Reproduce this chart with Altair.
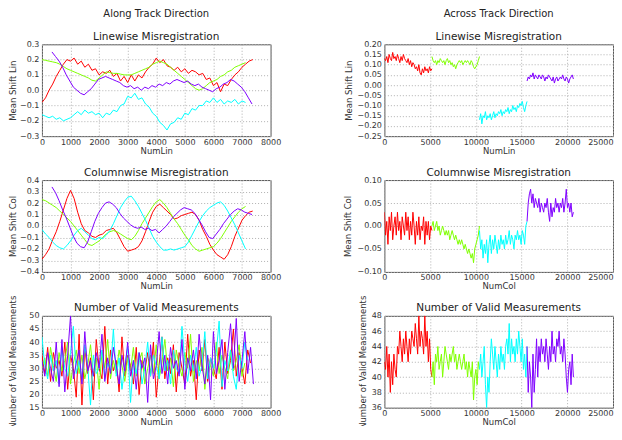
import altair as alt
import pandas as pd

SERIES = ["a_red", "b_green", "c_cyan", "d_purple"]
COLORS = ["#ff0000", "#80ff00", "#00ffff", "#8000ff"]

# ---------------- Along track (NumLin), step 125 ----------------
AL_STEP = 125
al_lin_red = [-0.08, -0.05, 0.0, 0.04, 0.09, 0.13, 0.17, 0.2, 0.19, 0.21, 0.17, 0.19, 0.15, 0.17, 0.13, 0.14,
              0.1, 0.12, 0.11, 0.13, 0.09, 0.11, 0.06, 0.09, 0.05, 0.1, 0.06, 0.1, 0.08, 0.12, 0.15, 0.17,
              0.21, 0.18, 0.2, 0.16, 0.15, 0.13, 0.15, 0.12, 0.14, 0.11, 0.13, 0.12, 0.1, 0.11, 0.07, 0.08,
              0.03, 0.05, -0.01, 0.04, 0.03, 0.07, 0.1, 0.12, 0.15, 0.17, 0.19, 0.2]
al_lin_green = [0.2, 0.195, 0.19, 0.185, 0.18, 0.17, 0.155, 0.14, 0.13, 0.12, 0.11, 0.1, 0.09, 0.08, 0.065, 0.06,
                0.08, 0.1, 0.12, 0.115, 0.11, 0.11, 0.105, 0.1, 0.1, 0.1, 0.11, 0.12, 0.13, 0.14, 0.15, 0.17,
                0.18, 0.19, 0.18, 0.17, 0.15, 0.13, 0.11, 0.09, 0.07, 0.05, 0.03, 0.01, 0.0, 0.01, 0.03, 0.05,
                0.06, 0.07, 0.09, 0.1, 0.12, 0.13, 0.15, 0.16, 0.17, 0.18]
al_lin_cyan = [-0.16, -0.17, -0.18, -0.17, -0.19, -0.18, -0.2, -0.19, -0.18, -0.16, -0.14, -0.16, -0.13, -0.15,
               -0.14, -0.16, -0.15, -0.18, -0.15, -0.16, -0.13, -0.14, -0.1, -0.09, -0.04, -0.05, -0.02, -0.06,
               -0.05, -0.09, -0.11, -0.15, -0.17, -0.21, -0.23, -0.26, -0.22, -0.21, -0.18, -0.19, -0.15, -0.16,
               -0.12, -0.13, -0.1, -0.1, -0.07, -0.08, -0.05, -0.08, -0.06, -0.09, -0.07, -0.08, -0.06, -0.09,
               -0.07, -0.08]
al_lin_purple = [0.25, 0.22, 0.19, 0.15, 0.1, 0.06, 0.02, 0.0, -0.02, -0.03, -0.01, 0.01, 0.04, 0.07, 0.08, 0.09,
                 0.08, 0.07, 0.06, 0.05, 0.03, 0.02, 0.03, 0.01, 0.02, 0.0, 0.02, 0.01, 0.03, 0.02, 0.04, 0.03,
                 0.05, 0.04, 0.06, 0.07, 0.06, 0.05, 0.06, 0.04, 0.03, 0.04, 0.02, 0.01, 0.0, -0.01, 0.01, 0.02,
                 0.04, 0.05, 0.07, 0.06, 0.04, 0.02, -0.01, -0.05, -0.09]
al_lin_starts = [0, 0, 0, 350]

al_col_red = [-0.29, -0.25, -0.2, -0.12, -0.05, 0.04, 0.14, 0.24, 0.31, 0.24, 0.12, 0.02, -0.04, -0.06, -0.09,
              -0.1, -0.08, -0.07, -0.04, -0.03, -0.02, -0.06, -0.12, -0.18, -0.22, -0.21, -0.2, -0.18, -0.13,
              -0.05, 0.04, 0.12, 0.17, 0.19, 0.16, 0.13, 0.1, 0.06, 0.07, 0.09, 0.1, 0.11, 0.12, 0.1, 0.05,
              -0.03, -0.09, -0.16, -0.21, -0.25, -0.27, -0.29, -0.25, -0.18, -0.09, -0.02, 0.05, 0.09, 0.12, 0.13]
al_col_green = [0.23, 0.22, 0.2, 0.18, 0.16, 0.13, 0.1, 0.07, 0.04, 0.0, -0.04, -0.08, -0.12, -0.16, -0.17, -0.15,
                -0.13, -0.1, -0.07, -0.05, -0.04, -0.05, -0.07, -0.09, -0.11, -0.12, -0.09, -0.04, 0.02, 0.07,
                0.12, 0.17, 0.21, 0.23, 0.2, 0.16, 0.11, 0.06, 0.02, -0.03, -0.08, -0.12, -0.17, -0.2, -0.22,
                -0.21, -0.2, -0.19, -0.18, -0.15, -0.11, -0.06, -0.01, 0.04, 0.08, 0.12, 0.15, 0.17]
al_col_cyan = [-0.03, -0.07, -0.1, -0.14, -0.17, -0.19, -0.2, -0.17, -0.13, -0.08, -0.04, -0.02, -0.05, -0.08,
               -0.11, -0.12, -0.1, -0.11, -0.08, -0.04, 0.02, 0.09, 0.16, 0.21, 0.25, 0.26, 0.22, 0.17, 0.11,
               0.05, -0.02, -0.09, -0.14, -0.18, -0.21, -0.21, -0.2, -0.21, -0.2, -0.19, -0.18, -0.14, -0.08,
               -0.02, 0.04, 0.09, 0.13, 0.16, 0.18, 0.2, 0.21, 0.18, 0.13, 0.07, 0.01, -0.06, -0.13, -0.2]
al_col_purple = [0.34, 0.29, 0.22, 0.14, 0.07, -0.01, -0.09, -0.15, -0.18, -0.19, -0.14, -0.05, 0.04, 0.11, 0.16,
                 0.2, 0.21, 0.19, 0.16, 0.11, 0.07, 0.04, 0.01, -0.01, -0.02, -0.01, -0.03, -0.02, -0.04, -0.03,
                 -0.06, -0.03, 0.0, 0.04, 0.08, 0.11, 0.14, 0.16, 0.15, 0.14, 0.11, 0.06, 0.01, -0.05, -0.1,
                 -0.11, -0.07, -0.03, 0.02, 0.06, 0.1, 0.13, 0.15, 0.14, 0.12, 0.11, 0.1]
al_col_starts = [0, 0, 0, 350]

AL_VALID_STEP = 100
al_val_red = [35, 28, 38, 25, 36, 30, 33, 27, 40, 22, 35, 30, 19, 43, 16, 38, 28, 34, 18, 41, 30, 26, 46, 24, 37,
              29, 33, 21, 42, 27, 35, 31, 24, 38, 20, 33, 29, 36, 27, 40, 19, 31, 42, 26, 34, 28, 39, 21, 36, 30,
              24, 43, 27, 33, 18, 37, 29, 41, 25, 34, 30, 26, 38, 22, 40, 28, 33, 45, 27, 36, 30, 24, 37, 32]
al_val_green = [30, 34, 27, 38, 31, 25, 36, 29, 33, 40, 24, 32, 37, 28, 35, 26, 31, 39, 27, 34, 22, 36, 30, 41,
                26, 33, 28, 37, 31, 25, 34, 29, 38, 27, 33, 36, 24, 30, 35, 28, 39, 26, 32, 41, 29, 34, 23, 37,
                31, 27, 36, 30, 43, 25, 33, 29, 38, 22, 34, 31, 27, 40, 28, 35, 30, 26, 37, 29, 33, 39, 27, 32]
al_val_cyan = [42, 31, 26, 35, 29, 33, 24, 38, 30, 27, 36, 46, 28, 33, 25, 39, 31, 16, 35, 28, 30, 37, 26, 32, 29,
               45, 27, 34, 22, 31, 38, 17, 33, 28, 36, 24, 30, 40, 27, 35, 31, 26, 42, 29, 33, 24, 37, 30, 28, 46,
               32, 25, 35, 29, 38, 27, 31, 44, 26, 34, 30, 36, 48, 23, 33, 29, 37, 27, 22, 35, 30, 40, 33]
al_val_purple = [33, 27, 36, 30, 25, 40, 23, 41, 21, 35, 50, 26, 32, 37, 24, 44, 29, 33, 27, 36, 30, 43, 25, 34,
                 28, 38, 31, 24, 35, 29, 40, 27, 33, 22, 36, 30, 34, 17, 39, 26, 31, 44, 28, 35, 24, 38, 30, 33,
                 27, 41, 22, 34, 29, 37, 26, 43, 31, 24, 35, 18, 44, 28, 33, 41, 22, 36, 47, 30, 49, 25, 33, 44,
                 28, 38, 24]
al_val_starts = [0, 0, 0, 0]

# ---------------- Across track (NumCol), step 130 ----------------
AC_STEP = 130
ac_starts = [0, 5200, 10400, 15600]
ac_lin_red = [0.13, 0.12, 0.14, 0.11, 0.15, 0.13, 0.12, 0.16, 0.13, 0.14, 0.12, 0.15, 0.13, 0.11, 0.14, 0.12,
              0.15, 0.13, 0.12, 0.11, 0.13, 0.1, 0.12, 0.09, 0.11, 0.1, 0.08, 0.09, 0.07, 0.1, 0.06, 0.05, 0.08,
              0.06, 0.09, 0.07, 0.08, 0.06, 0.09, 0.07, 0.08]
ac_lin_green = [0.14, 0.12, 0.11, 0.12, 0.1, 0.12, 0.11, 0.13, 0.12, 0.11, 0.12, 0.1, 0.12, 0.13, 0.11, 0.12, 0.1,
                0.11, 0.09, 0.1, 0.08, 0.1, 0.11, 0.12, 0.11, 0.12, 0.1, 0.11, 0.12, 0.11, 0.12, 0.11, 0.1, 0.12,
                0.11, 0.09, 0.08, 0.09, 0.1, 0.12, 0.14]
ac_lin_cyan = [-0.17, -0.14, -0.19, -0.15, -0.16, -0.13, -0.17, -0.15, -0.16, -0.14, -0.17, -0.15, -0.13, -0.16,
               -0.14, -0.15, -0.13, -0.14, -0.12, -0.15, -0.13, -0.14, -0.12, -0.13, -0.11, -0.14, -0.12, -0.13,
               -0.1, -0.12, -0.11, -0.13, -0.1, -0.11, -0.09, -0.1, -0.08, -0.11, -0.13, -0.1, -0.08]
ac_lin_purple = [0.02, 0.04, 0.03, 0.05, 0.04, 0.06, 0.03, 0.05, 0.04, 0.03, 0.05, 0.04, 0.03, 0.05, 0.04, 0.02,
                 0.04, 0.03, 0.05, 0.04, 0.03, 0.02, 0.04, 0.01, 0.03, 0.04, 0.02, 0.03, 0.04, 0.03, 0.05, 0.03,
                 0.02, 0.04, 0.03, 0.01, 0.03, 0.04, 0.05, 0.03]

ac_col_red = [0.03, -0.02, 0.01, -0.04, 0.02, -0.01, 0.03, -0.03, 0.0, 0.02, -0.02, 0.03, -0.01, 0.01, -0.03,
              0.02, 0.0, -0.02, 0.03, -0.01, 0.02, -0.03, 0.01, -0.02, 0.03, 0.0, -0.04, 0.01, -0.02, 0.02,
              -0.03, 0.0, -0.01, 0.02, -0.04, 0.01, -0.02, 0.01, -0.03, 0.0, -0.01]
ac_col_green = [0.0, 0.01, -0.01, 0.0, 0.01, -0.01, 0.0, -0.02, -0.01, 0.0, -0.01, -0.02, -0.01, -0.02, -0.01,
                -0.03, -0.02, -0.01, -0.02, -0.03, -0.02, -0.03, -0.04, -0.03, -0.04, -0.03, -0.04, -0.05, -0.04,
                -0.05, -0.06, -0.05, -0.06, -0.07, -0.06, -0.08, -0.05, -0.04, -0.03, -0.02, 0.0]
ac_col_cyan = [-0.01, -0.05, -0.03, -0.07, -0.04, -0.06, -0.03, -0.08, -0.04, -0.02, -0.06, -0.03, -0.05, -0.02,
               -0.04, -0.06, -0.03, -0.05, -0.02, -0.04, -0.03, -0.05, -0.02, -0.04, -0.03, -0.01, -0.04, -0.02,
               -0.03, -0.05, -0.02, -0.03, -0.01, -0.03, -0.02, -0.04, -0.01, -0.02, -0.04, 0.0, 0.01]
ac_col_purple = [0.01, 0.05, 0.07, 0.08, 0.05, 0.07, 0.04, 0.06, 0.05, 0.04, 0.06, 0.03, 0.05, 0.04, 0.03, 0.05,
                 0.04, 0.06, 0.03, 0.01, 0.05, 0.02, 0.04, 0.03, 0.06, 0.04, 0.05, 0.03, 0.05, 0.04, 0.06, 0.03,
                 0.05, 0.08, 0.04, 0.05, 0.03, 0.05, 0.02, 0.03]

ac_val_red = [42, 41, 44, 40, 43, 38, 42, 39, 43, 41, 40, 44, 43, 46, 44, 42, 45, 43, 46, 44, 42, 45, 43, 46, 45,
              44, 47, 45, 43, 48, 44, 46, 45, 43, 48, 44, 46, 42, 45, 41, 40]
ac_val_green = [40, 42, 39, 43, 42, 44, 41, 42, 43, 40, 42, 44, 43, 42, 41, 43, 42, 43, 44, 42, 43, 41, 42, 43,
                42, 41, 42, 43, 41, 42, 40, 42, 41, 40, 42, 37, 40, 41, 39, 42, 41]
ac_val_cyan = [41, 43, 40, 42, 44, 39, 36, 40, 38, 42, 45, 43, 41, 44, 42, 40, 43, 41, 44, 42, 43, 41, 44, 45, 43,
               47, 42, 45, 43, 44, 42, 45, 43, 46, 44, 42, 45, 41, 43, 40, 44]
ac_val_purple = [44, 38, 42, 40, 36, 43, 38, 41, 45, 40, 44, 42, 45, 43, 44, 42, 45, 43, 41, 44, 42, 46, 43, 44,
                 42, 45, 44, 46, 43, 44, 42, 45, 43, 40, 38, 41, 42, 39, 43, 40]

# ---------------- ticks ----------------
X_TICKS_AL = [0, 1000, 2000, 3000, 4000, 5000, 6000, 7000, 8000]
X_TICKS_AC = [0, 5000, 10000, 15000, 20000, 25000]
Y_TICKS_AL_LIN = [-0.3, -0.2, -0.1, 0.0, 0.1, 0.2, 0.3]
Y_TICKS_AL_COL = [-0.4, -0.3, -0.2, -0.1, 0.0, 0.1, 0.2, 0.3, 0.4]
Y_TICKS_AL_VAL = [15, 20, 25, 30, 35, 40, 45, 50]
Y_TICKS_AC_LIN = [-0.25, -0.2, -0.15, -0.1, -0.05, 0.0, 0.05, 0.1, 0.15, 0.2]
Y_TICKS_AC_COL = [-0.1, -0.05, 0.0, 0.05, 0.1]
Y_TICKS_AC_VAL = [36, 38, 40, 42, 44, 46, 48]


def frame(lists, starts, step):
    rows = []
    for name, start, vals in zip(SERIES, starts, lists):
        for i, v in enumerate(vals):
            rows.append({"x": start + step * i, "y": v, "s": name})
    return pd.DataFrame(rows)


PW, PH = 229, 92


def panel(df, xticks, xtitle, yticks, yfmt, ytitle, title, ext, tpad):
    last = xticks[-1]
    xaxis = alt.Axis(
        values=xticks, format="d", title=xtitle, labelFlush=False, labelOverlap=False,
        titlePadding=0, labelPadding=2,
        labelAlign={"condition": {"test": f"datum.value == {last} && {last} > 10000", "value": "right"},
                    "value": "center"},
    )
    return alt.Chart(df).mark_line(strokeWidth=1, clip=True).encode(
        x=alt.X("x:Q", scale=alt.Scale(domain=[xticks[0], xticks[-1]], nice=False, zero=False), axis=xaxis),
        y=alt.Y("y:Q", scale=alt.Scale(domain=[yticks[0], yticks[-1]], nice=False, zero=False),
                axis=alt.Axis(values=yticks, format=yfmt, title=ytitle, labelOverlap=False,
                              labelFlush=False, minExtent=ext, maxExtent=ext, titlePadding=tpad)),
        color=alt.Color("s:N", scale=alt.Scale(domain=SERIES, range=COLORS), legend=None),
    ).properties(width=PW, height=PH, title=title)


def sub_title(text, offset=-2):
    return alt.TitleParams(text=text, fontSize=10.5, offset=offset)


def top_title(main, sub):
    return alt.TitleParams(text=main, subtitle=sub, fontSize=10, subtitleFontSize=10.5,
                           subtitlePadding=13, offset=-2, subtitleColor="#222",
                           subtitleFont="DejaVu Sans")


p11 = panel(frame([al_lin_red, al_lin_green, al_lin_cyan, al_lin_purple], al_lin_starts, AL_STEP),
            X_TICKS_AL, "NumLin", Y_TICKS_AL_LIN, ".1f", "Mean Shift Lin",
            top_title("Along Track Direction", "Linewise Misregistration"), 22, 2)
p12 = panel(frame([ac_lin_red, ac_lin_green, ac_lin_cyan, ac_lin_purple], ac_starts, AC_STEP),
            X_TICKS_AC, "NumLin", Y_TICKS_AC_LIN, ".2f", "Mean Shift Lin",
            top_title("Across Track Direction", "Linewise Misregistration"), 28, 3)
p21 = panel(frame([al_col_red, al_col_green, al_col_cyan, al_col_purple], al_col_starts, AL_STEP),
            X_TICKS_AL, "NumLin", Y_TICKS_AL_COL, ".1f", "Mean Shift Col",
            sub_title("Columnwise Misregistration"), 22, 2)
p22 = panel(frame([ac_col_red, ac_col_green, ac_col_cyan, ac_col_purple], ac_starts, AC_STEP),
            X_TICKS_AC, "NumCol", Y_TICKS_AC_COL, ".2f", "Mean Shift Col",
            sub_title("Columnwise Misregistration"), 28, 4)
# the long rotated axis title reaches above the plot, so pull the panel title back down
p31 = panel(frame([al_val_red, al_val_green, al_val_cyan, al_val_purple], al_val_starts, AL_VALID_STEP),
            X_TICKS_AL, "NumLin", Y_TICKS_AL_VAL, "d", "Number of Valid Measurements",
            sub_title("Number of Valid Measurements", -19), 22, 2)
p32 = panel(frame([ac_val_red, ac_val_green, ac_val_cyan, ac_val_purple], ac_starts, AC_STEP),
            X_TICKS_AC, "NumCol", Y_TICKS_AC_VAL, "d", "Number of Valid Measurements",
            sub_title("Number of Valid Measurements", -19), 14, 3)

chart = alt.concat(p11, p12, p21, p22, p31, p32, columns=2,
                   spacing={"row": 44, "column": 114}, bounds="flush").properties(
    padding={"left": 0, "top": 0, "right": 0, "bottom": -4}
).configure(font="DejaVu Sans").configure_view(
    stroke="#555", strokeWidth=1
).configure_axis(
    domain=False, ticks=False, grid=True, gridColor="#b0b0b0", gridDash=[1, 2], gridWidth=1,
    labelFont="DejaVu Sans", labelFontSize=8, labelColor="#333", labelPadding=3,
    titleFont="DejaVu Sans", titleFontSize=8.5, titleFontWeight="normal", titleColor="#333",
).configure_title(
    font="DejaVu Sans", fontWeight="normal", color="#222", anchor="middle"
)

chart.save("out.html", embed_options={"renderer": "svg", "actions": False})
